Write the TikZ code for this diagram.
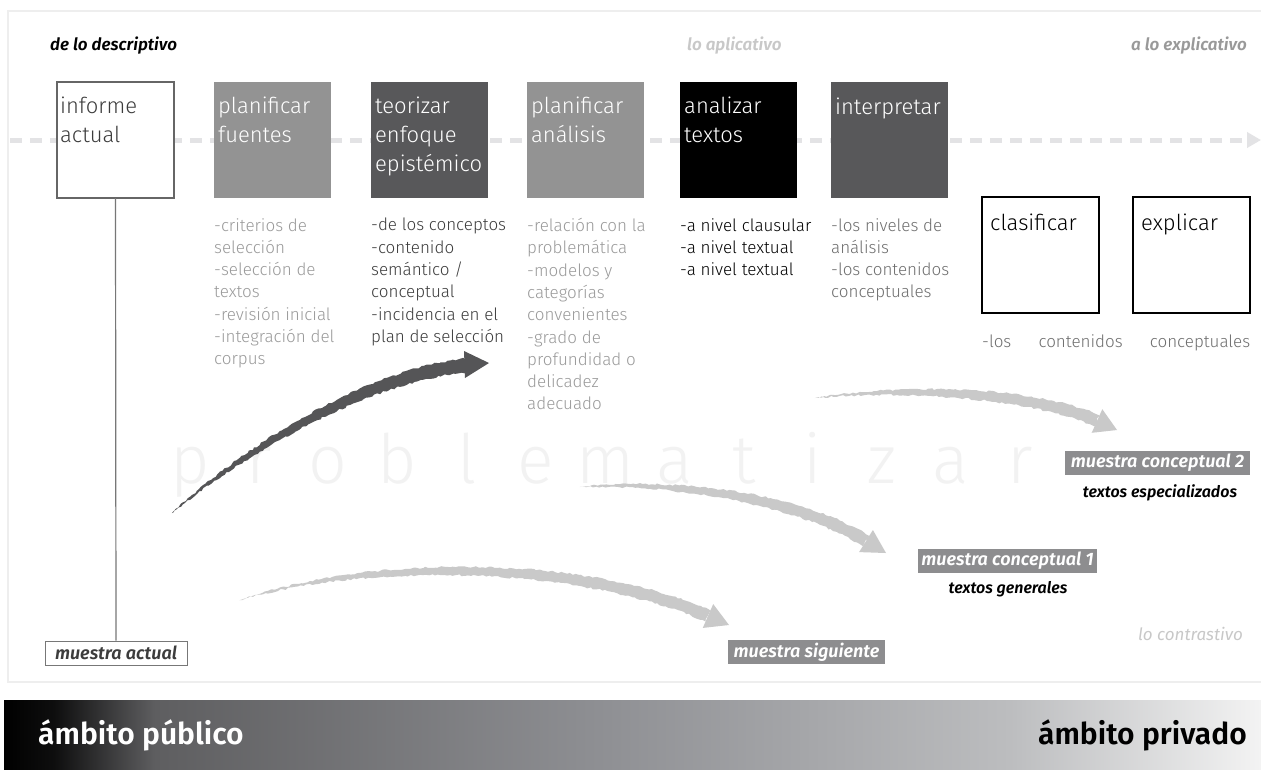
\documentclass[tikz,border=0pt]{standalone}
\usepackage{fontspec}
\setmainfont{Fira Sans}
\newfontfamily\lightf{Fira Sans Light}
\newfontfamily\semif{Fira Sans SemiBold}
\usetikzlibrary{arrows.meta,decorations.pathmorphing,calc}
\definecolor{midgray}{HTML}{939393}
\definecolor{darkfill}{HTML}{58585A}
\definecolor{framegray}{HTML}{EEEEEE}
\definecolor{dashgray}{HTML}{E3E3E5}
\definecolor{listgray}{HTML}{9A9A9A}
\definecolor{listdark}{HTML}{3C3C3C}
\definecolor{listmid}{HTML}{6E6E6E}
\definecolor{labelgray}{HTML}{8D8D8F}
\definecolor{brushdark}{HTML}{555557}
\definecolor{brushlight}{HTML}{C9C9C9}
\definecolor{watermark}{HTML}{F2F2F2}
\definecolor{toplight}{HTML}{C8C8C8}
\definecolor{topmid}{HTML}{999999}
\definecolor{linegray}{HTML}{777777}
\definecolor{openborder}{HTML}{666666}
\definecolor{barA}{HTML}{5E5E60}
\definecolor{barB}{HTML}{8F9094}
\definecolor{barC}{HTML}{BCBDBF}
\definecolor{barD}{HTML}{F3F3F3}
\pgfdeclarehorizontalshading{barshade}{100bp}{color(0bp)=(black); color(25bp)=(black); color(27bp)=(black!85!barA); color(31bp)=(barA); color(49bp)=(barB); color(65bp)=(barC); color(75bp)=(barD); color(100bp)=(barD)}
\begin{document}
\begin{tikzpicture}[x=1pt,y=-1pt,
  boxbase/.style={minimum width=117pt, minimum height=116pt, inner sep=0pt, anchor=north west, outer sep=0pt},
  graybox/.style={boxbase, fill=midgray},
  darkbox/.style={boxbase, fill=darkfill},
  blackbox/.style={boxbase, fill=black},
  openbox/.style={boxbase, fill=white, draw=openborder, line width=2pt},
  blackopen/.style={boxbase, fill=white, draw=black, line width=2pt},
  title/.style={font=\lightf\fontsize{22}{29}\selectfont, anchor=north west, inner sep=0pt, align=left, execute at begin node=\strut},
  listtext/.style={font=\lightf\fontsize{17}{22.3}\selectfont, anchor=north west, inner sep=0pt, align=left, execute at begin node=\strut},
  toplabel/.style={font=\semif\itshape\fontsize{17}{20}\selectfont, inner sep=0pt},
  tagbox/.style={fill=labelgray, text=white, font=\semif\itshape\fontsize{18}{20}\selectfont, inner sep=0pt, minimum height=24pt},
  subtag/.style={font=\semif\itshape\fontsize{16}{18}\selectfont, inner sep=0pt},
  wmletter/.style={font=\lightf\fontsize{68}{76}\selectfont, text=watermark, anchor=base, inner sep=0pt},
  brush/.style={decorate, decoration={random steps, segment length=3pt, amplitude=1pt}},
  bartext/.style={font=\semif\fontsize{30}{34}\selectfont, inner sep=0pt}
]
\pgfmathsetseed{7}
\useasboundingbox (0,0) rectangle (1261,769);
\fill[white] (0,0) rectangle (1261,769);
% frame
\draw[framegray, line width=2pt] (8,11) rectangle (1268,682);
% top labels
\node[toplabel, anchor=base west, text=black] (tl1) at (50,50) {de lo descriptivo};
\node[toplabel, anchor=base west, text=toplight] (tl2) at (687,50) {lo aplicativo};
\node[toplabel, anchor=base east, text=topmid] (tl3) at (1247,50) {a lo explicativo};
% dashed axis
\coordinate (dl) at (10,140);
\coordinate (dr) at (1261,140);
\draw[dashgray, line width=5pt, dash pattern=on 12pt off 8pt, -{Triangle[length=14pt,width=15pt]}] (dl) -- (dr);
% watermark word
\foreach \l [count=\i from 0] in {p,r,o,b,l,e,m,a,t,i,z,a,r}
  \node[wmletter] (wm\i) at (190+69.2*\i,483) {\l};
% boxes
\node[openbox] (inf) at (57,82) {};
\node[graybox] (pf) at (214,82) {};
\node[darkbox] (te) at (371,82) {};
\node[graybox] (pa) at (527,82) {};
\node[blackbox] (an) at (680,82) {};
\node[darkbox] (ip) at (831,82) {};
\node[blackopen] (cl) at (982,197) {};
\node[blackopen] (ex) at (1133,197) {};
% titles
\node[title, text=listdark] (tinf) at ($(inf.north west)+(3,15.2)$) {informe\\actual};
\node[title, text=white] (tpf) at ($(pf.north west)+(4,15.2)$) {planificar\\fuentes};
\node[title, text=white] (tte) at ($(te.north west)+(4,15.2)$) {teorizar\\enfoque\\epistémico};
\node[title, text=white] (tpa) at ($(pa.north west)+(4,15.2)$) {planificar\\análisis};
\node[title, text=white] (tan) at ($(an.north west)+(4,15.2)$) {analizar\\textos};
\node[title, text=white] (tip) at ($(ip.north west)+(4,11.7)$) {interpretar};
\node[title, text=black] (tcl) at ($(cl.north west)+(8,12.7)$) {clasificar};
\node[title, text=black] (tex) at ($(ex.north west)+(8,12.7)$) {explicar};
% lists
\node[listtext, text=listgray] (lpf) at (214,218) {-criterios de\\selección\\-selección de\\textos\\-revisión inicial\\-integración del\\corpus};
\node[listtext, text=listdark] (lte) at (371,218) {-de los conceptos\\-contenido\\semántico /\\conceptual\\-incidencia en el\\plan de selección};
\node[listtext, text=listgray] (lpa) at (527,218) {-relación con la\\problemática\\-modelos y\\categorías\\convenientes\\-grado de\\profundidad o\\delicadez\\adecuado};
\node[listtext, text=black] (lan) at (680,218) {-a nivel clausular\\-a nivel textual\\-a nivel textual};
\node[listtext, text=listmid] (lip) at (831,218) {-los niveles de\\análisis\\-los contenidos\\conceptuales};
\node[font=\lightf\fontsize{17}{22.3}\selectfont, text=listmid, anchor=base west, inner sep=0pt] (lcl) at (982,347) {\hbox to 268pt{-los\hfill contenidos\hfill conceptuales}};
% brush arrows
\fill[brushdark, brush] (172,513) .. controls (248.2,442.5) and (367,369) .. (468,358)
  -- (468,372) .. controls (373,381) and (251.8,448.5) .. (172,513) -- cycle;
\fill[brushdark] (464,351) -- (489,363) -- (465,378) -- cycle;
\fill[brushlight, brush] (815,398) .. controls (920.6,381) and (1041.2,389.1) .. (1099.5,415.5)
  -- (1094.5,426.5) .. controls (1038.8,400.9) and (919.4,389) .. (815,398) -- cycle;
\fill[brushlight] (1091.7,432.8) -- (1117,430) -- (1102.3,409.2) -- cycle;
\fill[brushlight, brush] (580,487) .. controls (680.2,476) and (801.9,494.3) .. (869.2,535.9)
  -- (862.8,546.1) .. controls (798.1,505.7) and (679.8,484) .. (580,487) -- cycle;
\fill[brushlight] (859.1,552.1) -- (886,553) -- (872.9,530) -- cycle;
\fill[brushlight, brush] (240,600) .. controls (369.5,554) and (581,554.1) .. (710.4,610.5)
  -- (705.6,621.5) .. controls (579,565.9) and (370.5,562) .. (240,600) -- cycle;
\fill[brushlight] (702.8,627.9) -- (729,625) -- (713.2,604.1) -- cycle;
% sample labels
\node[tagbox, minimum width=185pt] (mc2) at (1157.5,463) {muestra conceptual 2};
\node[subtag, text=black] (ts2) at (1160,493) {textos especializados};
\node[tagbox, minimum width=179pt] (mc1) at (1007.5,561) {muestra conceptual 1};
\node[subtag, text=black] (ts1) at (1008,589) {textos generales};
\node[tagbox, minimum width=157pt] (ms) at (806.5,652) {muestra siguiente};
\node[tagbox, minimum width=142pt, fill=white, draw=linegray, line width=1pt, text=listdark] (ma) at (116,653) {muestra actual};
\draw[linegray, line width=1.2pt] (inf.south) -- (ma.north);
\node[inner sep=0pt, anchor=base east, text=toplight, font=\itshape\fontsize{17}{20}\selectfont] (lc) at (1243,640) {lo contrastivo};
% bottom bar
\shade[shading=barshade] (4,700) rectangle (1261,769);
\node[bartext, text=white, anchor=west] (pub) at (38,735) {ámbito público};
\node[bartext, text=black, anchor=east] (priv) at (1247,735) {ámbito privado};
\end{tikzpicture}
\end{document}
